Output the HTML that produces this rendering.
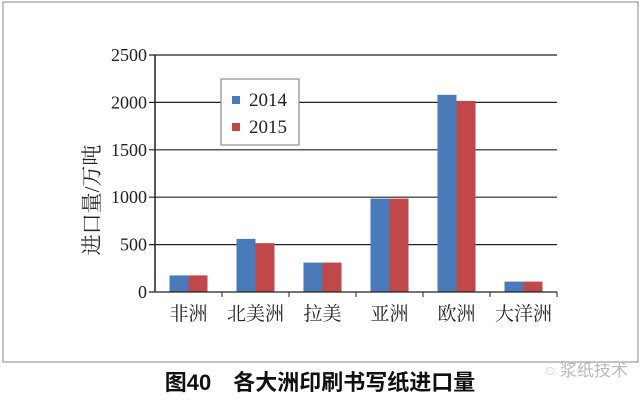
<!DOCTYPE html>
<html><head><meta charset="utf-8"><style>
body{margin:0;background:#fff;}
svg{display:block;}
</style></head><body>
<svg width="640" height="402" viewBox="0 0 640 402" xmlns="http://www.w3.org/2000/svg">
<rect x="3" y="2" width="635" height="360" fill="#fff" stroke="#888" stroke-width="1"/>
<g id="grid"></g>
<g id="bars"></g>
<g id="axes"></g>
<text transform="translate(99,200) rotate(-90)" text-anchor="middle" font-family="Liberation Serif, Noto Serif CJK SC, serif" font-size="21" fill="#222">进口量/万吨</text>
<g>
<rect x="221" y="79" width="78" height="66" fill="#fff" stroke="#777" stroke-width="1"/>
<rect x="232" y="96" width="8" height="8" fill="#4a7ab8"/>
<text x="249" y="106" font-family="Liberation Serif, serif" font-size="19" fill="#222">2014</text>
<rect x="232" y="123" width="8" height="8" fill="#c0484a"/>
<text x="249" y="133" font-family="Liberation Serif, serif" font-size="19" fill="#222">2015</text>
</g>
<text x="320" y="390" text-anchor="middle" font-family="Liberation Sans, Noto Sans CJK SC, sans-serif" font-size="22" font-weight="bold" fill="#111">图40　各大洲印刷书写纸进口量</text>
<text x="545" y="376" font-family="Liberation Sans, Noto Sans CJK SC, sans-serif" font-size="17" fill="#bbb">◌ 浆纸技术</text>
<script>
const categories=["非洲","北美洲","拉美","亚洲","欧洲","大洋洲"];
const values2014=[175,560,310,985,2080,110];
const values2015=[175,515,310,985,2015,110];
const yTicks=[0,500,1000,1500,2000,2500];
const NS="http://www.w3.org/2000/svg";
const L=155,R=557,T=55,B=292,yMax=2500;
const y=v=>B-(v/yMax)*(B-T);
const bw=(R-L)/categories.length;
function mk(tag,attrs,parent){const e=document.createElementNS(NS,tag);for(const k in attrs)e.setAttribute(k,attrs[k]);parent.appendChild(e);return e;}
const grid=document.getElementById('grid'),bars=document.getElementById('bars'),axes=document.getElementById('axes');
yTicks.forEach(t=>{
  const ln=mk('line',{x1:L-6,x2:R,y1:y(t),y2:y(t),stroke:'#222','stroke-width':1.2},t===0?axes:grid);
  
  
  const tx=mk('text',{x:L-8,y:y(t)+6,'text-anchor':'end','font-family':'Liberation Serif, serif','font-size':18,fill:'#222'},axes);
  tx.textContent=t;
  
  
});
const ax=mk('line',{x1:L,x2:L,y1:T,y2:B,stroke:'#222','stroke-width':1.5},axes);


categories.forEach((c,i)=>{
  const cx=L+bw*(i+0.5),w=19;
  const b1=mk('rect',{x:cx-w,y:y(values2014[i]),width:w,height:B-y(values2014[i]),fill:'#4a7ab8'},bars);
  
  
  const b2=mk('rect',{x:cx,y:y(values2015[i]),width:w,height:B-y(values2015[i]),fill:'#c0484a'},bars);
  
  
  const tk=mk('line',{x1:L+bw*(i+1),x2:L+bw*(i+1),y1:B,y2:B+5,stroke:'#222','stroke-width':1},axes);
  
  
  const lb=mk('text',{x:cx,y:B+28,'text-anchor':'middle','font-family':'Liberation Serif, Noto Serif CJK SC, serif','font-size':19,fill:'#222'},axes);
  lb.textContent=c;
  
  
});
</script>
</svg>
</body></html>
